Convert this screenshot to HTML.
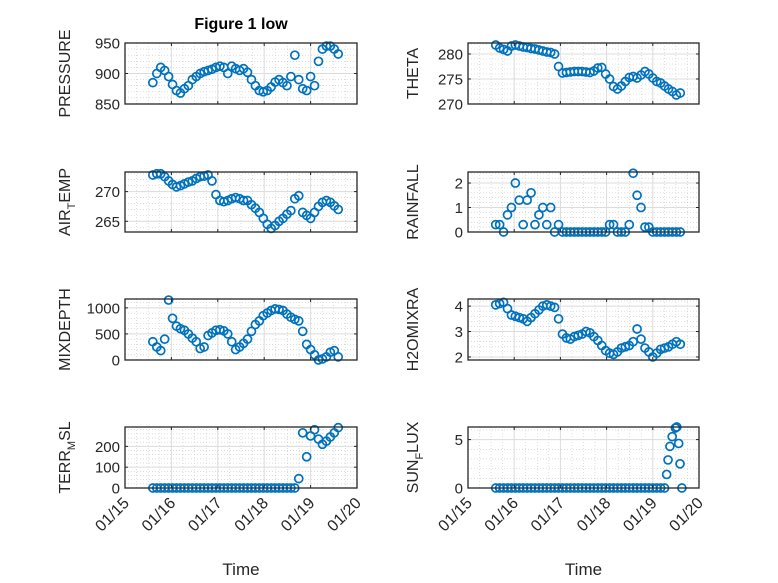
<!DOCTYPE html>
<html><head><meta charset="utf-8"><style>
html,body{margin:0;padding:0;background:#fff;}
svg{display:block;font-family:"Liberation Sans",sans-serif;}
</style></head><body>
<svg id="fig" width="778" height="583" viewBox="0 0 778 583" xmlns="http://www.w3.org/2000/svg">
<rect width="778" height="583" fill="#fff"/>
<text x="241" y="29" text-anchor="middle" font-size="16" font-weight="bold" fill="#000">Figure 1 low</text>
</svg>
<script>
const times = [15.60,15.685,15.77,15.855,15.94,16.025,16.11,16.195,16.28,16.365,16.45,16.535,16.62,16.705,16.79,16.875,16.96,17.045,17.13,17.215,17.30,17.385,17.47,17.555,17.64,17.725,17.81,17.895,17.98,18.065,18.15,18.235,18.32,18.405,18.49,18.575,18.66,18.745,18.83,18.915,19.00,19.085,19.17,19.255,19.34,19.425,19.51,19.595];
const pressure = [885,900,910,905,895,882,872,868,875,880,890,895,900,903,905,907,910,912,910,900,912,908,905,908,902,890,880,872,870,872,878,886,890,885,880,895,930,890,875,872,895,880,920,940,945,945,940,932];
const theta = [281.8,281.2,280.9,280.6,281.6,281.8,281.6,281.4,281.3,281.1,281,280.8,280.6,280.4,280.3,280,277.5,276.2,276.3,276.4,276.5,276.5,276.5,276.4,276.3,276.6,277.2,277.3,276,275,273.5,273,273.6,274.5,275.3,275.5,275.2,275.8,276.5,276,275.2,274.5,274.2,273.6,273,272.5,271.8,272.2];
const airTemp = [272.8,273,273,272.5,271.8,271.2,270.8,271,271.3,271.6,271.8,272.2,272.5,272.6,272.8,271.8,269.5,268.5,268.3,268.5,268.8,269,268.8,268.5,268.5,267.8,267.2,266.5,265.5,264.5,263.8,264.3,265,265.5,266.2,266.8,268.8,269.3,266.5,266,265.5,266.5,267.5,268.2,268.5,268.2,267.6,267];
const rainfall = [0.3,0.3,0,0.7,1.0,2.0,1.3,0.3,1.3,1.6,0.3,0.7,1.0,0.3,1.0,0,0.3,0,0,0,0,0,0,0,0,0,0,0,0,0.3,0.3,0,0,0,0.3,2.4,1.5,1.0,0.2,0.2,0,0,0,0,0,0,0,0];
const mixDepth = [350,250,180,400,1150,800,650,600,570,500,420,350,220,250,470,520,570,580,560,500,350,200,250,320,400,550,680,750,850,900,950,980,970,950,880,820,780,750,550,300,200,100,0,20,60,150,180,60];
const h2oMix = [4.05,4.1,4.15,3.9,3.65,3.6,3.55,3.5,3.4,3.55,3.7,3.85,4.0,4.05,4.0,3.95,3.5,2.9,2.75,2.7,2.8,2.85,2.9,3.0,2.95,2.8,2.65,2.45,2.25,2.15,2.1,2.2,2.35,2.4,2.45,2.6,3.1,2.7,2.35,2.2,2.0,2.15,2.3,2.35,2.4,2.5,2.6,2.5];
const terrMsl = [0,0,0,0,0,0,0,0,0,0,0,0,0,0,0,0,0,0,0,0,0,0,0,0,0,0,0,0,0,0,0,0,0,0,0,0,0,45,265,150,250,280,235,210,225,245,265,290];
const sunTimes = [15.60,15.685,15.77,15.855,15.94,16.025,16.11,16.195,16.28,16.365,16.45,16.535,16.62,16.705,16.79,16.875,16.96,17.045,17.13,17.215,17.30,17.385,17.47,17.555,17.64,17.725,17.81,17.895,17.98,18.065,18.15,18.235,18.32,18.405,18.49,18.575,18.66,18.745,18.83,18.915,19.00,19.085,19.17,19.255,19.30,19.33,19.37,19.42,19.49,19.52,19.56,19.59,19.63];
const sunFlux = [0,0,0,0,0,0,0,0,0,0,0,0,0,0,0,0,0,0,0,0,0,0,0,0,0,0,0,0,0,0,0,0,0,0,0,0,0,0,0,0,0,0,0,0,1.4,2.9,4.3,5.3,6.2,6.3,4.6,2.5,0];
const xTickDays = [15,16,17,18,19,20];
const xTickLabels = ["01/15","01/16","01/17","01/18","01/19","01/20"];
const pressureTicks = [850,900,950];
const thetaTicks = [270,275,280];
const airTicks = [265,270];
const rainTicks = [0,1,2];
const mixTicks = [0,500,1000];
const h2oTicks = [2,3,4];
const terrTicks = [0,100,200];
const sunTicks = [0,5];

const NS = "http://www.w3.org/2000/svg";
const svg = document.getElementById('fig');
function mk(tag, attrs, parent){
  const e = document.createElementNS(NS, tag);
  for (const k in attrs) e.setAttribute(k, attrs[k]);
  (parent||svg).appendChild(e);
  return e;
}
const colX = [[125,357],[468,699]];
const rowY = [[43,104],[172,232],[299,360],[427,488]];
const panels = [
  {key:'pressure', label:'PRESSURE', col:0,row:0, xs:times, ys:pressure, ticks:pressureTicks, ymin:850, ymax:950, minor:10},
  {key:'theta', label:'THETA', col:1,row:0, xs:times, ys:theta, ticks:thetaTicks, ymin:270, ymax:282.2, minor:1},
  {key:'air-temp', label:['AIR','T','EMP'], col:0,row:1, xs:times, ys:airTemp, ticks:airTicks, ymin:263.2, ymax:273.3, minor:1},
  {key:'rainfall', label:'RAINFALL', col:1,row:1, xs:times, ys:rainfall, ticks:rainTicks, ymin:0, ymax:2.45, minor:0.2},
  {key:'mixdepth', label:'MIXDEPTH', col:0,row:2, xs:times, ys:mixDepth, ticks:mixTicks, ymin:0, ymax:1170, minor:100},
  {key:'h2omixra', label:'H2OMIXRA', col:1,row:2, xs:times, ys:h2oMix, ticks:h2oTicks, ymin:1.88, ymax:4.28, minor:0.2},
  {key:'terr-msl', label:['TERR','M','SL'], col:0,row:3, xs:times, ys:terrMsl, ticks:terrTicks, ymin:0, ymax:293, minor:20},
  {key:'sun-flux', label:['SUN','F','LUX'], col:1,row:3, xs:sunTimes, ys:sunFlux, ticks:sunTicks, ymin:0, ymax:6.3, minor:1}
];
panels.forEach(p=>{
  const [x0,x1] = colX[p.col], [y0,y1] = rowY[p.row];
  const xS = t => x0 + (t-15)/5*(x1-x0);
  const yS = v => y1 - (v-p.ymin)/(p.ymax-p.ymin)*(y1-y0);
  const g = mk('g',{});
  
  
  mk('rect',{x:x0,y:y0,width:x1-x0,height:y1-y0,fill:'#fff'},g);
  for (let d=15; d<20; d+=0.25){
    if (Math.abs(d-Math.round(d))<1e-6) continue;
    mk('line',{x1:xS(d),x2:xS(d),y1:y0,y2:y1,stroke:'#c8c8c8','stroke-width':0.6,'stroke-dasharray':'1,2'},g);
  }
  const start = Math.ceil(p.ymin/p.minor)*p.minor;
  for (let v=start; v<=p.ymax+1e-9; v+=p.minor){
    mk('line',{x1:x0,x2:x1,y1:yS(v),y2:yS(v),stroke:'#c8c8c8','stroke-width':0.6,'stroke-dasharray':'1,2'},g);
  }
  xTickDays.forEach(d=>{
    mk('line',{x1:xS(d),x2:xS(d),y1:y0,y2:y1,stroke:'#dcdcdc','stroke-width':1},g);
  });
  p.ticks.forEach(v=>{
    mk('line',{x1:x0,x2:x1,y1:yS(v),y2:yS(v),stroke:'#dcdcdc','stroke-width':1},g);
  });
  p.xs.forEach((t,i)=>{
    const c = mk('circle',{cx:xS(t).toFixed(2),cy:yS(p.ys[i]).toFixed(2),r:4,fill:'none',stroke:'#0072BD','stroke-width':1.7},g);
    
    
  });
  const box = mk('rect',{x:x0,y:y0,width:x1-x0,height:y1-y0,fill:'none',stroke:'#262626','stroke-width':1.3},g);
  
  
  xTickDays.forEach(d=>{
    mk('line',{x1:xS(d),x2:xS(d),y1:y1,y2:y1-3,stroke:'#262626','stroke-width':1},g);
    mk('line',{x1:xS(d),x2:xS(d),y1:y0,y2:y0+3,stroke:'#262626','stroke-width':1},g);
  });
  p.ticks.forEach(v=>{
    mk('line',{x1:x0,x2:x0+3,y1:yS(v),y2:yS(v),stroke:'#262626','stroke-width':1},g);
    mk('line',{x1:x1,x2:x1-3,y1:yS(v),y2:yS(v),stroke:'#262626','stroke-width':1},g);
    const tl = mk('text',{x:x0-5,y:yS(v)+5.5,'text-anchor':'end','font-size':15,fill:'#262626'},g);
    tl.textContent = String(v);
    
    
  });
  const lx = x0 - (p.col===0 ? 55 : 50), ly = (y0+y1)/2;
  const yl = mk('text',{x:lx,y:ly,'text-anchor':'middle','font-size':16,fill:'#262626',transform:`rotate(-90 ${lx} ${ly})`},g);
  
  
  if (Array.isArray(p.label)){
    const a = mk('tspan',{},yl); a.textContent = p.label[0];
    const b = mk('tspan',{'font-size':11,dy:5},yl); b.textContent = p.label[1];
    const c = mk('tspan',{dy:-5},yl); c.textContent = p.label[2];
  } else yl.textContent = p.label;
  if (p.row===3){
    xTickDays.forEach((d,i)=>{
      const tx = xS(d)+5, ty = y1+16;
      const t = mk('text',{x:tx,y:ty,'text-anchor':'end','font-size':16,fill:'#262626',transform:`rotate(-45 ${tx} ${ty})`},g);
      t.textContent = xTickLabels[i];
      
      
    });
    const xt = mk('text',{x:(x0+x1)/2,y:575,'text-anchor':'middle','font-size':17,fill:'#262626'},g);
    xt.textContent = 'Time';
    
    
  }
});
</script>
</body></html>
